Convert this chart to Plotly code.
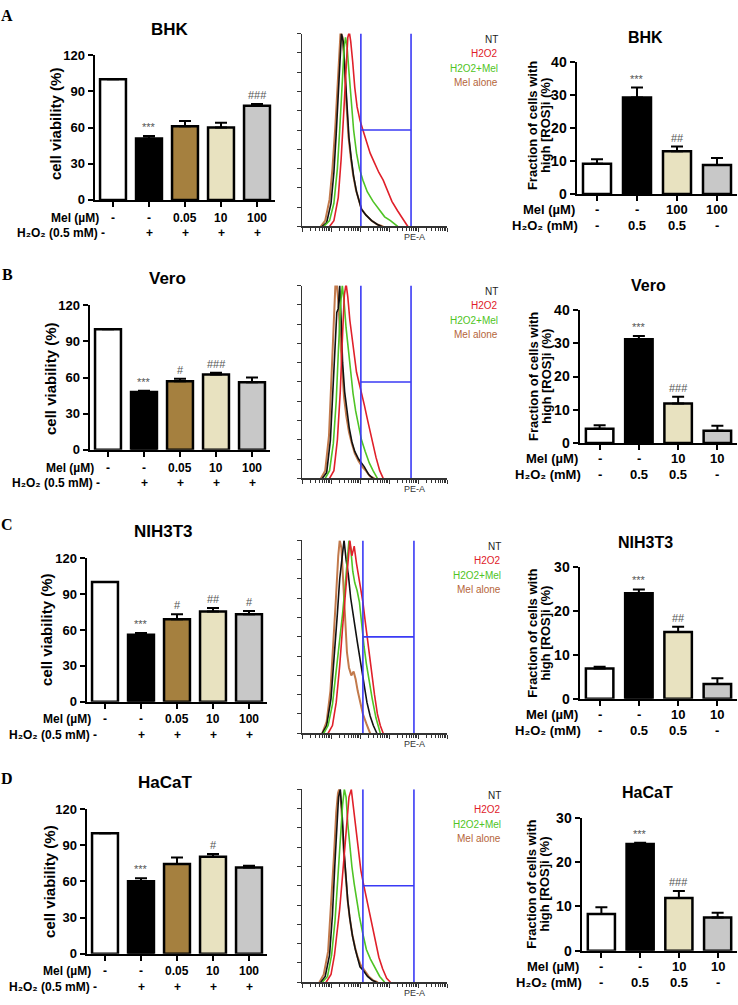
import math
import plotly.graph_objects as go

W, H = 738, 1005

cell_lines = ["BHK", "Vero", "NIH3T3", "HaCaT"]
panel_labels = ["A", "B", "C", "D"]

# ---------------- cell viability (left column) ----------------
viab_mel = ["-", "-", "0.05", "10", "100"]
viab_h2o2 = ["-", "+", "+", "+", "+"]
viab_colors = ["#ffffff", "#000000", "#a5803f", "#e8e2c0", "#c8c8c8"]
viab_ticks = [0, 30, 60, 90, 120]

viab_bhk = [100, 51, 61, 60, 78]
viab_bhk_err = [0, 2, 4.5, 4, 1.5]
viab_bhk_sig = ["", "***", "", "", "###"]
viab_vero = [100, 48, 57, 62.5, 56]
viab_vero_err = [0, 1, 2, 1.5, 4]
viab_vero_sig = ["", "***", "#", "###", ""]
viab_nih = [100, 56, 69, 75.5, 73]
viab_nih_err = [0, 1.5, 4.2, 2.8, 2.8]
viab_nih_sig = ["", "***", "#", "##", "#"]
viab_hacat = [100, 60, 74.5, 80.5, 71.5]
viab_hacat_err = [0, 2.5, 5.3, 2.3, 1.5]
viab_hacat_sig = ["", "***", "", "#", ""]

# ---------------- ROS fraction (right column) ----------------
ros_h2o2 = ["-", "0.5", "0.5", "-"]
ros_mel_bhk = ["-", "-", "100", "100"]
ros_mel_other = ["-", "-", "10", "10"]
ros_colors = ["#ffffff", "#000000", "#e8e2c0", "#c8c8c8"]
ros_ymax = [40, 40, 30, 30]

ros_bhk = [9.2, 29.3, 13.0, 8.8]
ros_bhk_err = [1.3, 3.0, 1.4, 2.1]
ros_bhk_sig = ["", "***", "##", ""]
ros_vero = [4.3, 31.2, 11.9, 3.7]
ros_vero_err = [1.0, 1.0, 2.0, 1.5]
ros_vero_sig = ["", "***", "###", ""]
ros_nih = [6.9, 24.0, 15.2, 3.4]
ros_nih_err = [0.4, 0.9, 1.2, 1.3]
ros_nih_sig = ["", "***", "##", ""]
ros_hacat = [8.3, 24.1, 11.9, 7.5]
ros_hacat_err = [1.5, 0.3, 1.6, 1.1]
ros_hacat_sig = ["", "***", "###", ""]

# ---------------- flow histograms (middle column), x = log10 PE-A ----------------
hist_names = ["Mel alone", "NT", "H2O2+Mel", "H2O2"]
hist_colors = ["#c27a4c", "#111111", "#4fc425", "#e0202a"]
hist_widths = [2.0, 1.6, 1.6, 1.6]

bhk_mel_x = [0.65, 0.80, 0.95, 1.05, 1.15, 1.22, 1.28, 1.33, 1.40, 1.46, 1.53, 1.60, 1.68, 1.76, 1.86, 1.95, 2.05, 2.20, 2.40, 2.60, 2.80]
bhk_mel_y = [0, 3, 14, 30, 52, 74, 92, 101, 98, 85, 64, 47, 36, 27, 19, 14, 9, 6, 3, 1, 0]
bhk_nt_x = [0.70, 0.85, 1.00, 1.10, 1.18, 1.25, 1.30, 1.36, 1.42, 1.48, 1.55, 1.62, 1.70, 1.78, 1.88, 1.96, 2.05, 2.20, 2.40, 2.60, 2.75]
bhk_nt_y = [0, 2, 12, 28, 48, 70, 88, 100, 96, 82, 62, 46, 35, 26, 18, 13, 9, 6, 3, 1, 0]
bhk_hm_x = [0.75, 0.95, 1.10, 1.22, 1.30, 1.38, 1.45, 1.50, 1.55, 1.62, 1.70, 1.78, 1.88, 1.98, 2.10, 2.25, 2.45, 2.65, 2.85, 3.05, 3.30]
bhk_hm_y = [0, 3, 12, 30, 50, 75, 92, 98, 94, 80, 64, 50, 38, 30, 24, 18, 13, 9, 5, 3, 0]
bhk_h_x = [0.95, 1.10, 1.25, 1.35, 1.45, 1.52, 1.58, 1.63, 1.68, 1.75, 1.82, 1.90, 2.00, 2.10, 2.22, 2.35, 2.50, 2.65, 2.80, 2.95, 3.10, 3.30, 3.50, 3.65]
bhk_h_y = [0, 3, 15, 35, 62, 85, 98, 101, 96, 85, 72, 62, 55, 50, 44, 38, 33, 28, 24, 18, 13, 8, 3, 0]

vero_mel_x = [0.65, 0.80, 0.93, 1.03, 1.10, 1.15, 1.20, 1.26, 1.32, 1.38, 1.45, 1.53, 1.62, 1.72, 1.82, 1.95, 2.08, 2.20, 2.35, 2.50]
vero_mel_y = [0, 4, 22, 55, 85, 100, 101, 90, 72, 55, 42, 32, 24, 18, 13, 9, 6, 4, 1, 0]
vero_nt_x = [0.70, 0.85, 0.98, 1.08, 1.15, 1.20, 1.25, 1.30, 1.35, 1.40, 1.47, 1.55, 1.63, 1.72, 1.82, 1.95, 2.05, 2.15, 2.30, 2.45]
vero_nt_y = [0, 3, 20, 50, 78, 86, 88, 100, 82, 60, 45, 35, 26, 19, 14, 10, 8, 6, 2, 0]
vero_hm_x = [0.80, 0.95, 1.08, 1.18, 1.26, 1.33, 1.39, 1.45, 1.52, 1.60, 1.68, 1.76, 1.85, 1.95, 2.05, 2.18, 2.32, 2.45, 2.60]
vero_hm_y = [0, 4, 18, 40, 68, 90, 100, 92, 78, 66, 54, 44, 35, 27, 20, 14, 8, 4, 0]
vero_h_x = [0.95, 1.10, 1.22, 1.32, 1.40, 1.46, 1.52, 1.58, 1.65, 1.73, 1.80, 1.88, 1.96, 2.05, 2.15, 2.25, 2.35, 2.45, 2.55, 2.68, 2.80]
vero_h_y = [0, 4, 20, 45, 75, 95, 101, 94, 82, 72, 62, 55, 50, 45, 38, 31, 24, 17, 11, 4, 0]

nih_mel_x = [0.70, 0.85, 0.98, 1.08, 1.17, 1.25, 1.30, 1.36, 1.42, 1.48, 1.55, 1.62, 1.70, 1.78, 1.85, 1.92, 2.00, 2.10, 2.22, 2.35]
nih_mel_y = [0, 6, 22, 45, 70, 92, 100, 96, 80, 60, 42, 34, 30, 32, 28, 22, 16, 10, 5, 0]
nih_nt_x = [0.70, 0.85, 1.00, 1.12, 1.22, 1.30, 1.38, 1.45, 1.52, 1.60, 1.68, 1.75, 1.83, 1.90, 1.98, 2.06, 2.14, 2.24, 2.35, 2.46, 2.58]
nih_nt_y = [0, 4, 18, 40, 62, 80, 92, 100, 90, 82, 70, 62, 55, 48, 40, 32, 24, 16, 9, 4, 0]
nih_hm_x = [0.75, 0.90, 1.05, 1.18, 1.30, 1.40, 1.48, 1.55, 1.62, 1.68, 1.75, 1.82, 1.90, 1.98, 2.06, 2.14, 2.22, 2.32, 2.42, 2.55, 2.70]
nih_hm_y = [0, 4, 15, 32, 50, 62, 75, 90, 100, 96, 84, 78, 74, 68, 55, 45, 36, 26, 18, 8, 0]
nih_h_x = [0.90, 1.05, 1.18, 1.30, 1.40, 1.50, 1.58, 1.65, 1.72, 1.80, 1.88, 1.95, 2.03, 2.10, 2.18, 2.26, 2.34, 2.42, 2.50, 2.60, 2.70, 2.80]
nih_h_y = [0, 4, 16, 35, 55, 72, 86, 100, 92, 97, 88, 82, 76, 68, 58, 48, 40, 30, 20, 10, 4, 0]

hacat_mel_x = [0.60, 0.75, 0.90, 1.00, 1.10, 1.18, 1.24, 1.30, 1.36, 1.43, 1.50, 1.57, 1.64, 1.73, 1.83, 1.92, 2.02, 2.15, 2.30, 2.45, 2.62]
hacat_mel_y = [0, 4, 16, 38, 65, 88, 98, 101, 90, 70, 54, 43, 34, 25, 18, 13, 9, 6, 3, 1, 0]
hacat_nt_x = [0.65, 0.80, 0.95, 1.05, 1.13, 1.20, 1.26, 1.32, 1.38, 1.45, 1.52, 1.58, 1.65, 1.74, 1.84, 1.92, 2.00, 2.12, 2.26, 2.42, 2.57]
hacat_nt_y = [0, 3, 14, 35, 60, 82, 96, 100, 88, 68, 51, 42, 33, 24, 17, 12, 8, 6, 3, 1, 0]
hacat_hm_x = [0.70, 0.88, 1.02, 1.14, 1.24, 1.33, 1.40, 1.46, 1.52, 1.58, 1.65, 1.72, 1.80, 1.88, 1.98, 2.10, 2.22, 2.36, 2.50, 2.68, 2.85]
hacat_hm_y = [0, 3, 14, 32, 55, 76, 92, 100, 96, 82, 70, 60, 51, 43, 34, 25, 17, 12, 8, 3, 0]
hacat_h_x = [0.83, 1.00, 1.12, 1.22, 1.30, 1.38, 1.46, 1.54, 1.62, 1.70, 1.78, 1.87, 1.95, 2.03, 2.12, 2.20, 2.30, 2.40, 2.52, 2.65, 2.78, 2.92, 3.05]
hacat_h_y = [0, 4, 14, 26, 38, 52, 68, 85, 96, 100, 90, 78, 66, 58, 51, 45, 38, 30, 21, 13, 7, 2, 0]

gate_lo = [2.03, 2.03, 2.10, 2.10]
gate_hi = [3.76, 3.76, 3.86, 3.86]
gate_level = [50, 50, 50, 50]

viab_rows = [
    (viab_bhk, viab_bhk_err, viab_bhk_sig),
    (viab_vero, viab_vero_err, viab_vero_sig),
    (viab_nih, viab_nih_err, viab_nih_sig),
    (viab_hacat, viab_hacat_err, viab_hacat_sig),
]
ros_rows = [
    (ros_bhk, ros_bhk_err, ros_bhk_sig, ros_mel_bhk),
    (ros_vero, ros_vero_err, ros_vero_sig, ros_mel_other),
    (ros_nih, ros_nih_err, ros_nih_sig, ros_mel_other),
    (ros_hacat, ros_hacat_err, ros_hacat_sig, ros_mel_other),
]
hist_rows = [
    [(bhk_mel_x, bhk_mel_y), (bhk_nt_x, bhk_nt_y), (bhk_hm_x, bhk_hm_y), (bhk_h_x, bhk_h_y)],
    [(vero_mel_x, vero_mel_y), (vero_nt_x, vero_nt_y), (vero_hm_x, vero_hm_y), (vero_h_x, vero_h_y)],
    [(nih_mel_x, nih_mel_y), (nih_nt_x, nih_nt_y), (nih_hm_x, nih_hm_y), (nih_h_x, nih_h_y)],
    [(hacat_mel_x, hacat_mel_y), (hacat_nt_x, hacat_nt_y), (hacat_hm_x, hacat_hm_y), (hacat_h_x, hacat_h_y)],
]

# ---------------- layout geometry (pixels) ----------------
left_box = [(95, 275, 48, 195), (90, 270, 302, 449), (87, 267, 559, 705), (87, 267, 814, 961)]
mid_box = [(302, 447, 26, 222), (302, 447, 282, 478), (302, 447, 541, 737), (302, 447, 794, 990)]
right_box = [(577, 737, 55, 189), (580, 737, 307, 442), (580, 737, 568, 702), (582, 737, 823, 958)]
left_title_pos = [(170, 22), (167, 275), (163, 532), (165, 787)]
right_title_pos = [(645, 30), (648, 282), (645, 543), (647, 797)]
letter_pos = [(7, 8), (7, 271), (7, 525), (7, 783)]
left_ylab_pos = [(55, 118), (50, 376), (47, 632), (50, 887)]
right_ylab_pos = [(532, 120), (533, 375), (533, 636), (532, 891)]

SANS = "Arial, Liberation Sans, Helvetica, sans-serif"
SERIF = "Times New Roman, Liberation Serif, serif"


def px(x):
    return x / W


def py(y):
    return 1 - y / H


fig = go.Figure()
layout = dict(width=W, height=H, margin=dict(l=0, r=0, t=0, b=0),
              paper_bgcolor="white", plot_bgcolor="white", showlegend=False)
annotations = []
counter = [0]


def new_axes(box, xrange, yrange):
    counter[0] += 1
    n = "" if counter[0] == 1 else str(counter[0])
    x0, x1, y0, y1 = box
    layout["xaxis" + n] = dict(domain=[px(x0), px(x1)], range=xrange, anchor="y" + n,
                               showgrid=False, zeroline=False, fixedrange=True)
    layout["yaxis" + n] = dict(domain=[py(y1), py(y0)], range=yrange, anchor="x" + n,
                               showgrid=False, zeroline=False, fixedrange=True)
    return "x" + n, "y" + n, "xaxis" + n, "yaxis" + n


def ann(text, x, y, size, color="black", bold=True, xanchor="center", yanchor="middle",
        xref="paper", yref="paper", family=SANS, angle=0, yshift=0):
    annotations.append(dict(text=text, x=x, y=y, xref=xref, yref=yref, showarrow=False,
                            xanchor=xanchor, yanchor=yanchor, textangle=angle, yshift=yshift,
                            font=dict(size=size, color=color, family=family,
                                      weight="bold" if bold else "normal")))


def style_bar_axes(xa_key, ya_key, ncat, yticks, tsize):
    layout[xa_key].update(showline=True, linewidth=2.5, linecolor="black", ticks="outside",
                          ticklen=5, tickwidth=2, tickcolor="black", tickvals=list(range(ncat)),
                          showticklabels=False)
    layout[ya_key].update(showline=True, linewidth=2.5, linecolor="black", ticks="outside",
                          ticklen=5, tickwidth=2, tickcolor="black", tickvals=yticks,
                          tickfont=dict(size=tsize, family=SANS, weight="bold", color="black"))


for r in range(4):
    # ---- left: viability ----
    vals, errs, sigs = viab_rows[r]
    box = left_box[r]
    xa, ya, xk, yk = new_axes(box, [-0.5, 4.5], [0, 120])
    style_bar_axes(xk, yk, 5, viab_ticks, 13)
    fig.add_trace(go.Bar(x=list(range(5)), y=vals, width=0.72, xaxis=xa, yaxis=ya,
                         marker=dict(color=viab_colors, line=dict(color="black", width=2.5)),
                         error_y=dict(type="data", symmetric=False, array=errs,
                                      arrayminus=[0] * 5, color="black", thickness=2, width=6)))
    for i, s in enumerate(sigs):
        if s:
            ann(s, i, vals[i] + errs[i], 11, color="#555555", bold=False, xref=xa, yref=ya,
                yanchor="bottom", yshift=1)
    cw = (box[1] - box[0]) / 5
    c0 = box[0] + cw / 2
    zero = box[3]
    for i in range(5):
        ann(viab_mel[i], i, py(zero + 18), 12, xref=xa)
        if i > 0:
            ann(viab_h2o2[i], i, py(zero + 34), 12, xref=xa)
    ann("Mel (µM)", px(c0 - 12), py(zero + 18), 12, xanchor="right")
    ann("H₂O₂ (0.5 mM) -", px(c0 - 6), py(zero + 34), 12, xanchor="right")
    tx, ty = left_title_pos[r]
    ann(cell_lines[r], px(tx), py(ty), 17)
    lx, ly = letter_pos[r]
    ann(panel_labels[r], px(lx), py(ly), 16, family=SERIF)
    yx, yy = left_ylab_pos[r]
    ann("cell viability (%)", px(yx), py(yy), 15, angle=-90)

    # ---- middle: flow histogram ----
    mbox = mid_box[r]
    xa, ya, xk, yk = new_axes(mbox, [0, 5], [0, 100])
    major = [0, 1, 2, 3, 4, 5]
    minor = [n + math.log10(k) for n in range(5) for k in range(2, 10)]
    layout[xk].update(showline=True, linewidth=1.5, linecolor="#333333", ticks="outside",
                      tickvals=major, ticklen=4, tickwidth=1, tickcolor="#333333",
                      showticklabels=False,
                      minor=dict(tickmode="array", tickvals=minor, ticks="outside", ticklen=3,
                                 tickwidth=1, tickcolor="#333333"))
    layout[yk].update(showline=True, linewidth=1.5, linecolor="#333333", ticks="outside",
                      tickvals=list(range(0, 101, 10)), ticklen=4, tickwidth=1,
                      tickcolor="#333333", showticklabels=False)
    for k, (hx, hy) in enumerate(hist_rows[r]):
        fig.add_trace(go.Scatter(x=hx, y=hy, mode="lines", xaxis=xa, yaxis=ya,
                                 line=dict(color=hist_colors[k], width=hist_widths[k], shape="linear"),
                                 name=hist_names[k]))
    gx = [gate_lo[r], gate_lo[r], None, gate_hi[r], gate_hi[r], None, gate_lo[r], gate_hi[r]]
    gy = [0, 100, None, 0, 100, None, gate_level[r], gate_level[r]]
    fig.add_trace(go.Scatter(x=gx, y=gy, mode="lines", xaxis=xa, yaxis=ya,
                             line=dict(color="#3a3af5", width=1.6)))
    legend_items = [("NT", "#222222"), ("H2O2", "#e0202a"), ("H2O2+Mel", "#4fc425"),
                    ("Mel alone", "#b5653a")]
    lx_right = 500 if r < 2 else 503
    for j, (t, c) in enumerate(legend_items):
        ann(t, px(lx_right), py(mbox[2] + 6 + 14.7 * j), 10, color=c, bold=False, xanchor="right")
    ann("PE-A", px(414), py(mbox[3] + 11), 9, color="#333333", bold=False)

    # ---- right: ROS fraction ----
    vals, errs, sigs, mel = ros_rows[r]
    rbox = right_box[r]
    ymax = ros_ymax[r]
    xa, ya, xk, yk = new_axes(rbox, [-0.5, 3.5], [0, ymax])
    style_bar_axes(xk, yk, 4, list(range(0, ymax + 1, 10)), 14)
    fig.add_trace(go.Bar(x=list(range(4)), y=vals, width=0.7, xaxis=xa, yaxis=ya,
                         marker=dict(color=ros_colors, line=dict(color="black", width=2.5)),
                         error_y=dict(type="data", symmetric=False, array=errs,
                                      arrayminus=[0] * 4, color="black", thickness=2, width=6)))
    for i, s in enumerate(sigs):
        if s:
            ann(s, i, vals[i] + errs[i], 11, color="#555555", bold=False, xref=xa, yref=ya,
                yanchor="bottom", yshift=1)
    cw = (rbox[1] - rbox[0]) / 4
    c0 = rbox[0] + cw / 2
    zero = rbox[3]
    for i in range(4):
        ann(mel[i], i, py(zero + 16), 13, xref=xa)
        ann(ros_h2o2[i], i, py(zero + 32), 13, xref=xa)
    ann("Mel (µM)", px(c0 - 20), py(zero + 16), 13, xanchor="right")
    ann("H₂O₂ (mM)", px(c0 - 17), py(zero + 32), 13, xanchor="right")
    tx, ty = right_title_pos[r]
    ann(cell_lines[r], px(tx), py(ty), 16)
    yx, yy = right_ylab_pos[r]
    ann("Fraction of cells with", px(yx), py(yy), 13, angle=-90)
    ann("high [ROS]i (%)", px(yx + 13), py(yy), 13, angle=-90)

layout["annotations"] = annotations
fig.update_layout(**layout)
fig.write_html("out.html", config={"displayModeBar": False, "staticPlot": True},
               post_script="document.body.style.margin='0px';document.body.style.padding='0px';document.body.style.overflow='hidden';")
